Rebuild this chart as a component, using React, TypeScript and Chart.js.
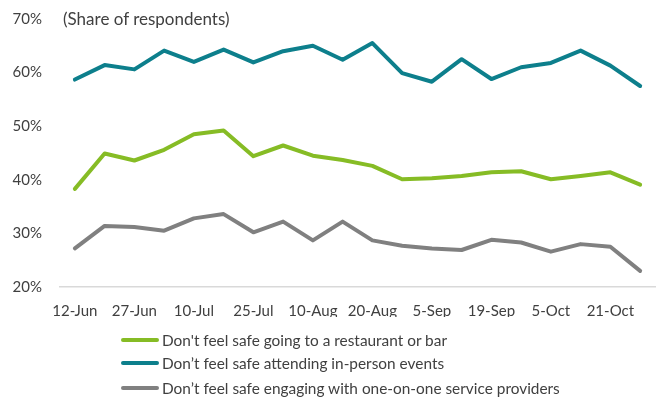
import React, { useEffect, useRef } from "react";
import { Chart, registerables } from "chart.js";

Chart.register(...registerables);

const tickLabels = [
  "12-Jun", "", "27-Jun", "", "10-Jul", "", "25-Jul", "", "10-Aug", "",
  "20-Aug", "", "5-Sep", "", "19-Sep", "", "5-Oct", "", "21-Oct", "",
];

const restaurantBar = [38.3, 44.9, 43.6, 45.6, 48.5, 49.2, 44.4, 46.4, 44.5, 43.7, 42.6, 40.1, 40.3, 40.7, 41.4, 41.6, 40.1, 40.7, 41.4, 39.1];
const inPersonEvents = [58.7, 61.4, 60.6, 64.1, 62.0, 64.3, 61.9, 64.0, 65.0, 62.4, 65.5, 59.9, 58.3, 62.5, 58.8, 61.0, 61.8, 64.1, 61.3, 57.5];
const oneOnOne = [27.2, 31.4, 31.2, 30.5, 32.8, 33.6, 30.2, 32.2, 28.7, 32.2, 28.7, 27.7, 27.2, 26.9, 28.8, 28.3, 26.6, 28.0, 27.5, 23.0];

const seriesNames = [
  "Don't feel safe going to a restaurant or bar",
  "Don’t feel safe attending in-person events",
  "Don’t feel safe engaging with one-on-one service providers",
];
const seriesColors = ["#86BC25", "#0D7F8C", "#808080"];
const yTicks = [20, 30, 40, 50, 60, 70];

const FONT = "Lato";
const TEXT = "#404040";

export default function App() {
  const ref = useRef<HTMLCanvasElement | null>(null);

  useEffect(() => {
    if (!ref.current) return;
    const values = [restaurantBar, inPersonEvents, oneOnOne];
    const chart = new Chart(ref.current, {
      type: "line",
      data: {
        labels: tickLabels,
        datasets: values.map((d, i) => ({
          label: seriesNames[i],
          data: d,
          borderColor: seriesColors[i],
          backgroundColor: seriesColors[i],
          borderWidth: 4,
          pointRadius: 0,
          tension: 0,
          borderCapStyle: "round" as const,
          borderJoinStyle: "round" as const,
        })),
      },
      options: {
        responsive: false,
        maintainAspectRatio: false,
        animation: false,
        layout: { padding: { left: 0, right: 3, top: 19, bottom: 81 } },
        plugins: {
          legend: { display: false },
          tooltip: { enabled: false },
          title: { display: false },
        },
        scales: {
          x: {
            type: "category",
            offset: true,
            grid: { display: false, drawTicks: false },
            border: { display: true, color: "#D9D9D9", width: 1.5 },
            ticks: {
              autoSkip: false,
              maxRotation: 0,
              minRotation: 0,
              padding: 15,
              color: TEXT,
              font: { family: FONT, size: 15 },
            },
            afterFit: (s: any) => {
              s.height = 30;
              s.paddingLeft = 0;
              s.paddingRight = 0;
            },
          },
          y: {
            min: 20,
            max: 70,
            grid: { display: false, drawTicks: false },
            border: { display: false },
            afterBuildTicks: (s: any) => {
              s.ticks = yTicks.map((v) => ({ value: v }));
            },
            ticks: {
              padding: 18,
              color: TEXT,
              font: { family: FONT, size: 15 },
              callback: (v: any) => `${v}%`,
            },
            afterFit: (s: any) => {
              s.width = 60;
              s.paddingTop = 0;
              s.paddingBottom = 0;
            },
          },
        },
      },
    });
    return () => chart.destroy();
  }, []);

  const rowsY = [340, 363, 388];

  return (
    <div style={{ position: "absolute", left: 0, top: 0, width: 658, height: 398, background: "#fff", overflow: "hidden" }}>
      <canvas ref={ref} width={658} height={398} style={{ width: 658, height: 398, display: "block" }} />
      <div
        style={{
          position: "absolute",
          left: 63,
          top: 19 - 11,
          height: 22,
          lineHeight: "22px",
          fontFamily: FONT,
          fontSize: 17,
          color: TEXT,
          whiteSpace: "nowrap",
        }}
      >
        (Share of respondents)
      </div>
      {seriesNames.map((name, i) => (
        <div
          key={name}
          style={{
            position: "absolute",
            left: 121,
            top: rowsY[i] - 10,
            height: 20,
            display: "flex",
            alignItems: "center",
            fontFamily: FONT,
            fontSize: 15.4,
            color: TEXT,
            whiteSpace: "nowrap",
          }}
        >
          <span style={{ display: "inline-block", width: 38, height: 4, borderRadius: 2, background: seriesColors[i], marginRight: 3 }} />
          <span>{name}</span>
        </div>
      ))}
    </div>
  );
}
